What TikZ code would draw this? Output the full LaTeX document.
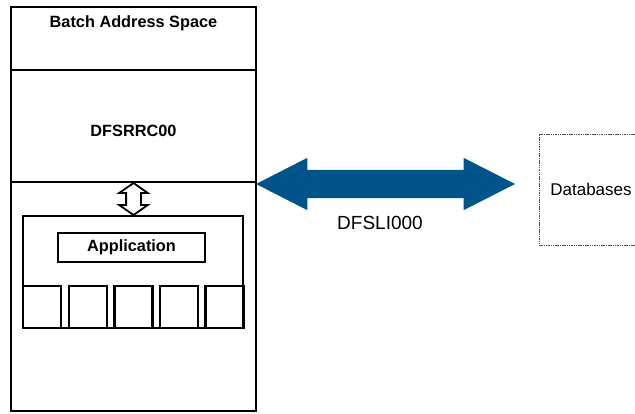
\documentclass[tikz,border=0pt]{standalone}
\usepackage{fontspec}
\setmainfont{Liberation Sans}
\usepackage{xcolor}
\usepackage{tikz}
\usetikzlibrary{shapes.arrows,positioning}
\definecolor{linkblue}{RGB}{0,84,140}

\begin{document}
\begin{tikzpicture}[x=1pt, y=-1pt,
    box/.style={draw, line width=2.6pt, inner sep=0pt},
    cell/.style={draw, line width=2.2pt, minimum width=38pt, minimum height=42pt, inner sep=0pt},
    every node/.style={font=\fontsize{16}{19}\selectfont}]
\useasboundingbox (0,0) rectangle (635,413);

\node[box, minimum width=245pt, minimum height=404pt] (space) at (133.5,209) {};
\node[box, minimum width=245pt, minimum height=63pt] (header) at (133.5,38.5) {};
\node[box, minimum width=245pt, minimum height=112pt] (rrc) at (133.5,126) {};
\node[font=\fontsize{16.3}{19}\selectfont\bfseries] (title) at (133.5,23) {Batch Address Space};
\node[font=\fontsize{16.3}{19}\selectfont\bfseries] (rrclabel) at (133.5,131) {DFSRRC00};

\node[draw, line width=2.2pt, minimum width=220pt, minimum height=112pt] (prog) at (133,272) {};
\node[draw, line width=2.2pt, minimum width=147pt, minimum height=29pt, font=\fontsize{16.3}{19}\selectfont\bfseries] (app) at (131.5,247.5) {Application};
\node[cell] (cell1) at (42,307) {};
\node[cell] (cell2) at (88,307) {};
\node[cell] (cell3) at (133.5,307) {};
\node[cell] (cell4) at (179,307) {};
\node[cell] (cell5) at (224.5,307) {};

% link between the region controller and the program
\node[double arrow, draw, line width=1.8pt, fill=white, shape border rotate=90, inner sep=6.5pt,
      double arrow head extend=7pt, double arrow tip angle=110, minimum height=32pt] (call) at (133.5,199) {};

\node[draw, dash pattern=on 1.5pt off 0.8pt, line width=0.6pt, gray!60!black, minimum width=104pt, minimum height=111pt, text=black, font=\fontsize{17}{20}\selectfont] (db) at (591,189.5) {Databases};

% DL/I calls to the databases
\node[double arrow, fill=linkblue, inner sep=14pt, double arrow head extend=12pt,
      double arrow tip angle=54, minimum height=259pt] (dli) at (385.5,184) {};
\node[font=\fontsize{19}{22}\selectfont] (dlilabel) at (380,223) {DFSLI000};
\end{tikzpicture}
\end{document}
